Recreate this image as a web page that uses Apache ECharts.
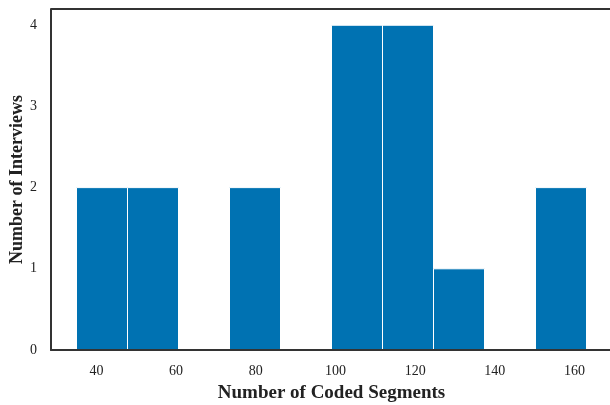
<!DOCTYPE html>
<html><head><meta charset="utf-8">
<script src="https://cdn.jsdelivr.net/npm/echarts@6/dist/echarts.min.js"></script>
<style>html,body{margin:0;padding:0;background:#fff}#c{width:610px;height:405px}</style>
</head><body><div id="c"></div>
<script>
const binEdges = [35, 47.8, 60.6, 73.4, 86.2, 99, 111.8, 124.6, 137.4, 150.2, 163];
const counts = [2, 2, 0, 2, 0, 4, 4, 1, 0, 2];
const xTicks = [40, 60, 80, 100, 120, 140, 160];
const yTicks = [0, 1, 2, 3, 4];
const xTitle = 'Number of Coded Segments';
const yTitle = 'Number of Interviews';

const FONT = 'Liberation Serif';
const bins = counts.map((c, i) => [binEdges[i], binEdges[i + 1], c]);

const chart = echarts.init(document.getElementById('c'), null, {renderer: 'canvas'});
chart.setOption({
  animation: false,
  backgroundColor: '#fff',
  grid: {left: 51, top: 9, width: 561, height: 341, containLabel: false, outerBoundsMode: 'none'},
  xAxis: {
    type: 'value', min: 28.6, max: 169.4, z: 10,
    splitLine: {show: false},
    axisTick: {show: false},
    axisLine: {show: true, onZero: false, lineStyle: {color: '#333', width: 2}},
    axisLabel: {customValues: xTicks, margin: 14, color: '#222', fontFamily: FONT, fontSize: 14},
    name: xTitle, nameLocation: 'middle', nameGap: 34, nameMoveOverlap: false,
    nameTextStyle: {fontFamily: FONT, fontSize: 19, fontWeight: 'bold', color: '#222'}
  },
  yAxis: {
    type: 'value', min: 0, max: 4.2, z: 10,
    splitLine: {show: false},
    axisTick: {show: false},
    axisLine: {show: true, lineStyle: {color: '#333', width: 2}},
    axisLabel: {customValues: yTicks, margin: 14, color: '#222', fontFamily: FONT, fontSize: 14},
    name: yTitle, nameLocation: 'middle', nameGap: 25, nameMoveOverlap: false,
    nameTextStyle: {fontFamily: FONT, fontSize: 18, fontWeight: 'bold', color: '#222'}
  },
  series: [{
    type: 'custom', z: 1,
    data: bins,
    encode: {x: [0, 1], y: 2},
    renderItem: function (params, api) {
      const p0 = api.coord([api.value(0), 0]);
      const p1 = api.coord([api.value(1), api.value(2)]);
      return {
        type: 'rect',
        shape: {x: p0[0], y: p1[1], width: p1[0] - p0[0], height: p0[1] - p1[1]},
        style: {fill: '#0072B2', stroke: '#fff', lineWidth: 1}
      };
    }
  }],
  graphic: [{
    type: 'line', z: 100,
    shape: {x1: 51, y1: 9, x2: 612, y2: 9},
    style: {stroke: '#333', lineWidth: 2}
  }]
});
</script></body></html>
